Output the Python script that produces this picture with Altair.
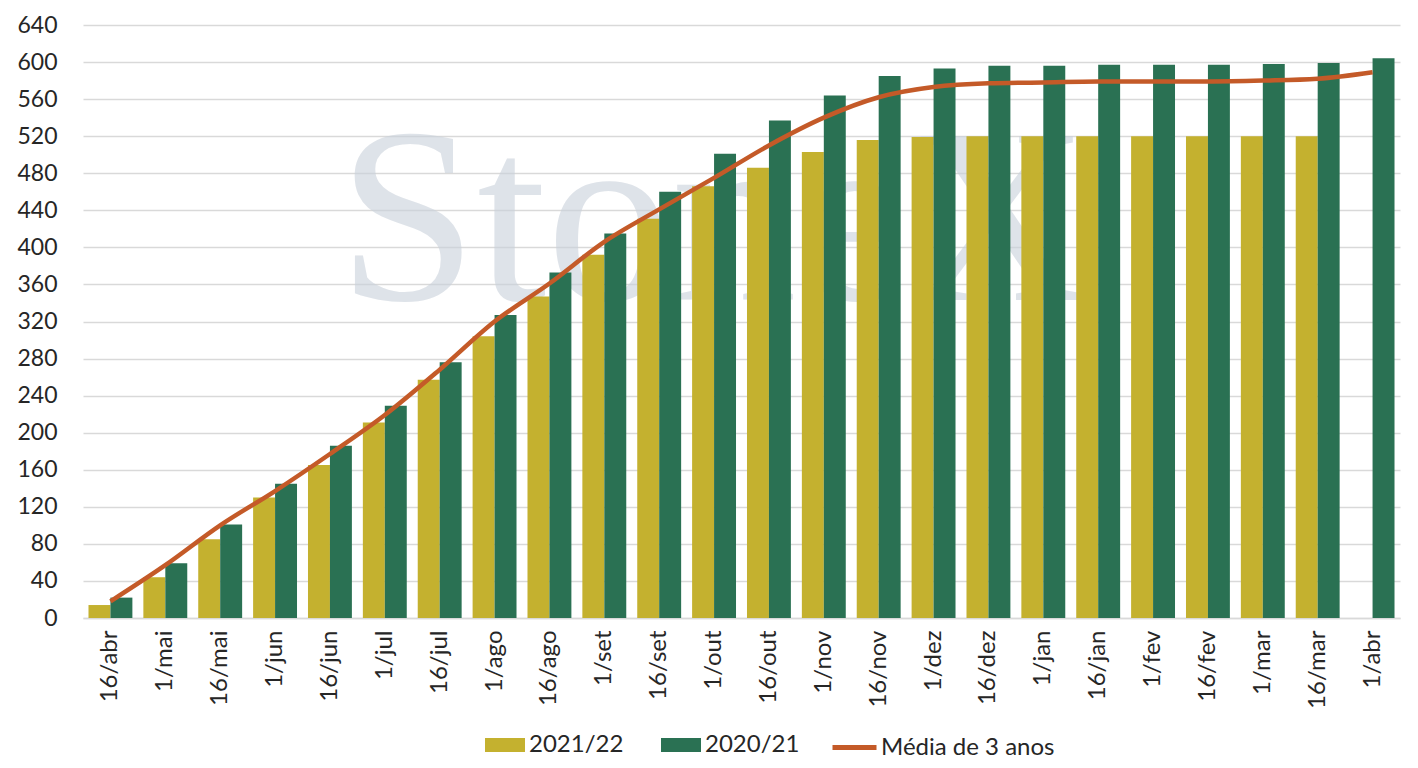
import altair as alt
import pandas as pd

categories = ["16/abr", "1/mai", "16/mai", "1/jun", "16/jun", "1/jul", "16/jul", "1/ago",
              "16/ago", "1/set", "16/set", "1/out", "16/out", "1/nov", "16/nov", "1/dez",
              "16/dez", "1/jan", "16/jan", "1/fev", "16/fev", "1/mar", "16/mar", "1/abr"]
s2122 = [14, 44, 85, 130, 165, 211, 257, 304, 347, 392, 431, 466, 486, 503, 516, 519,
         520, 520, 520, 520, 520, 520, 520, None]
s2021 = [22, 59, 101, 145, 186, 229, 276, 327, 373, 415, 460, 501, 537, 564, 585, 593,
         596, 596, 597, 597, 597, 598, 599, 604]
media = [18, 57, 100, 137, 177, 219, 268, 320, 361, 406, 441, 475, 510, 540, 562, 573,
         577, 578, 579, 579, 579, 580, 582, 589]
series = ["2021/22", "2020/21"]
line_name = "Média de 3 anos"
y_ticks = list(range(0, 641, 40))

rows = []
for c, a, b in zip(categories, s2122, s2021):
    if a is not None:
        rows.append({"cat": c, "serie": series[0], "v": a})
    if b is not None:
        rows.append({"cat": c, "serie": series[1], "v": b})
bars_df = pd.DataFrame(rows)
line_df = pd.DataFrame({"cat": categories, "v": media, "serie": [line_name] * len(categories)})

FONT = "Lato"
W, H = 1317, 593
TXT = "#262626"

x_axis = alt.Axis(labelAngle=270, labelFontSize=24, labelColor=TXT,
                  labelFont=FONT, labelPadding=12, ticks=False,
                  domainColor="#d9d9d9", domainWidth=1.5, grid=False,
                  labelAlign="right", labelBaseline="middle",
                  labelOverlap=False, labelLimit=200, title=None)
x_scale = alt.Scale(paddingInner=0.2, paddingOuter=0.1)
y_scale = alt.Scale(domain=[0, 640], nice=False)
y_axis = alt.Axis(values=y_ticks, labelFontSize=23, labelColor=TXT, labelFont=FONT,
                  labelPadding=26, ticks=False, domain=False, gridColor="#d9d9d9",
                  gridWidth=1.5, title=None, labelOverlap=False)

watermark = alt.Chart(pd.DataFrame({"t": ["StoneX"]})).mark_text(
    font="Liberation Serif", fontSize=250, color="#c9d1db", opacity=0.6,
    align="center", baseline="alphabetic"
).encode(text="t:N", x=alt.value(630), y=alt.value(275))

bars = alt.Chart(bars_df).mark_bar().encode(
    x=alt.X("cat:N", sort=categories, scale=x_scale, axis=x_axis),
    xOffset=alt.XOffset("serie:N", sort=series, scale=alt.Scale(domain=series, paddingInner=0, paddingOuter=0)),
    y=alt.Y("v:Q", scale=y_scale, axis=y_axis),
    color=alt.Color("serie:N", sort=series,
                    scale=alt.Scale(domain=series, range=["#c4b12f", "#2a7153"]),
                    legend=alt.Legend(title=None, orient="none", direction="horizontal",
                                      legendX=402, legendY=700, labelFontSize=24,
                                      labelFont=FONT, labelColor=TXT, labelLimit=300,
                                      symbolType="M-1,-0.35H1V0.35H-1Z", symbolSize=1600,
                                      symbolOpacity=1, symbolStrokeWidth=0,
                                      columnPadding=37, labelOffset=4, padding=0)),
)

line = alt.Chart(line_df).mark_line(strokeWidth=4.5, interpolate="monotone").encode(
    x=alt.X("cat:N", sort=categories, scale=x_scale, axis=x_axis),
    y=alt.Y("v:Q", scale=y_scale, axis=y_axis),
    stroke=alt.Stroke("serie:N",
                      scale=alt.Scale(domain=[line_name], range=["#c45a28"]),
                      legend=alt.Legend(title=None, orient="none", direction="horizontal",
                                        legendX=747, legendY=698, labelFontSize=24,
                                        labelFont=FONT, labelColor=TXT, labelLimit=300,
                                        symbolType="stroke", symbolSize=1936,
                                        symbolStrokeWidth=5, labelOffset=2, padding=0)),
)

chart = alt.layer(watermark, bars, line).properties(
    width=W, height=H,
    autosize=alt.AutoSizeParams(type="none"),
    padding={"left": 75, "top": 17, "right": 10, "bottom": 145},
    background="white",
).configure_view(stroke=None)

chart.save("out.html", embed_options={"renderer": "svg", "actions": False})
